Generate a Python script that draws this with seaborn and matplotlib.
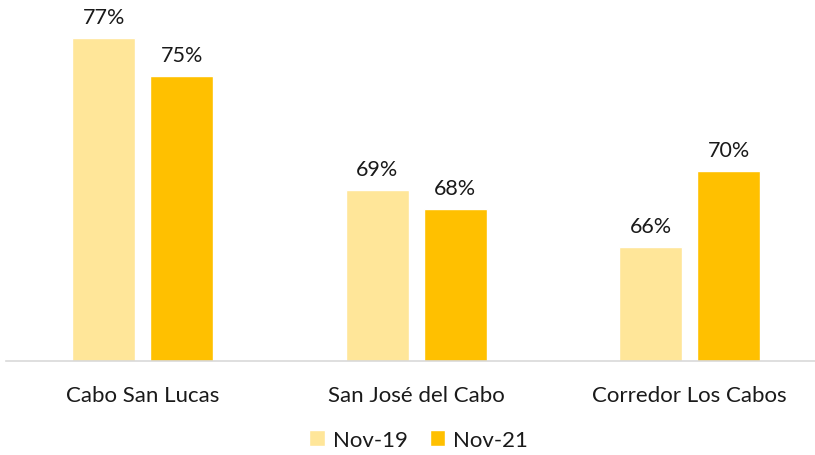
import matplotlib
matplotlib.use("Agg")
import matplotlib.pyplot as plt
import pandas as pd
import seaborn as sns

# data
categories = ["Cabo San Lucas", "San José del Cabo", "Corredor Los Cabos"]
nov19 = [77, 69, 66]
nov21 = [75, 68, 70]
series_names = ["Nov-19", "Nov-21"]
colors = ["#FFE699", "#FFC000"]

df = pd.DataFrame({
    "zona": categories * 2,
    "periodo": [series_names[0]] * 3 + [series_names[1]] * 3,
    "valor": nov19 + nov21,
})

sns.set_style("white")
plt.rcParams["font.family"] = ["Lato", "DejaVu Sans"]

fig = plt.figure(figsize=(8.15, 4.56), dpi=100)
ax = fig.add_axes([6 / 815, 94 / 456, 809 / 815, 362 / 456])

sns.barplot(data=df, x="zona", y="valor", hue="periodo", palette=colors,
            width=0.570, gap=0.19, saturation=1, ax=ax, legend=True)

ax.set_ylim(60, 79.05)
ax.set_xlim(-0.5, 2.458)

for cont in ax.containers:
    ax.bar_label(cont, labels=[f"{v:.0f}%" for v in cont.datavalues],
                 padding=8, fontsize=15.5, color="#1a1a1a")

for s in ["top", "left", "right"]:
    ax.spines[s].set_visible(False)
ax.spines["bottom"].set_color("#D9D9D9")
ax.spines["bottom"].set_linewidth(1.2)
ax.set_yticks([])
ax.set_xlabel("")
ax.set_ylabel("")
ax.tick_params(axis="x", length=0, pad=17, labelsize=16, labelcolor="#1a1a1a")

ax.legend(loc="upper center", bbox_to_anchor=(0.51, -0.135), ncol=2, frameon=False,
          fontsize=16, handlelength=0.7, handleheight=0.7, handletextpad=0.35,
          columnspacing=1.0, labelcolor="#1a1a1a")

fig.savefig("out.png", dpi=100)
